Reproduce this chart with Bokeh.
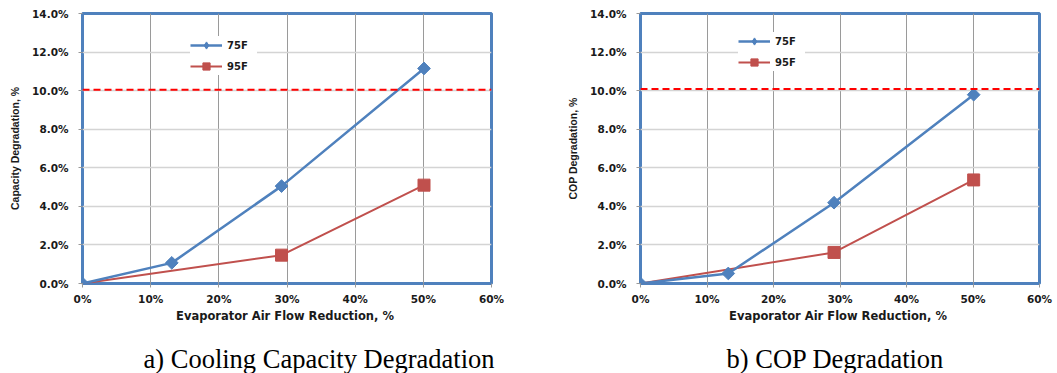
import math
from bokeh.plotting import figure
from bokeh.models import Range1d, Span, Legend, LegendItem, FixedTicker
from bokeh.core.properties import value
from bokeh.layouts import row, column
from bokeh.embed import file_html
from bokeh.resources import INLINE

# ---- data ----
x_ticks = [0, 10, 20, 30, 40, 50, 60]
x_tick_labels = ["0%", "10%", "20%", "30%", "40%", "50%", "60%"]
y_ticks = [0, 2, 4, 6, 8, 10, 12, 14]
y_tick_labels = ["0.0%", "2.0%", "4.0%", "6.0%", "8.0%", "10.0%", "12.0%", "14.0%"]

series_names = ["75F", "95F"]

cap_x75 = [0, 13.1, 29.2, 50.1]
cap_y75 = [0, 1.07, 5.05, 11.15]
cap_x95 = [0, 29.2, 50.1]
cap_y95 = [0, 1.47, 5.10]
cap_limit = 10.05

cop_x75 = [0, 13.2, 29.1, 50.1]
cop_y75 = [0, 0.52, 4.19, 9.79]
cop_x95 = [0, 29.1, 50.1]
cop_y95 = [0, 1.61, 5.37]
cop_limit = 10.08

x_title = "Evaporator  Air Flow Reduction, %"
cap_ytitle = "Capacity Degradation, %"
cop_ytitle = "COP Degradation, %"
captions = ["a) Cooling Capacity Degradation", "b) COP Degradation"]

BLUE = "#4F81BD"
RED = "#C0504D"


def build(width, left, right, xs75, ys75, xs95, ys95, limit, ytitle, leg_loc):
    p = figure(width=width, height=330, output_backend="svg", toolbar_location=None,
               x_range=Range1d(0, 60), y_range=Range1d(0, 14),
               min_border_left=left, min_border_right=right,
               min_border_top=13, min_border_bottom=47)
    p.background_fill_color = "white"
    p.border_fill_color = "white"
    p.outline_line_color = BLUE
    p.outline_line_width = 3

    for ax in (p.xaxis[0], p.yaxis[0]):
        ax.axis_line_color = None
        ax.major_tick_in = 0
        ax.major_tick_out = 4
        ax.major_tick_line_color = "#999999"
        ax.minor_tick_line_color = None
        ax.major_label_text_font = "DejaVu Sans"
        ax.major_label_text_font_style = "bold"
        ax.major_label_text_font_size = "10.5px"
        ax.major_label_text_color = "#1a1a1a"

    p.xaxis.ticker = FixedTicker(ticks=x_ticks)
    p.xaxis.major_label_overrides = {t: l for t, l in zip(x_ticks, x_tick_labels)}
    p.yaxis.ticker = FixedTicker(ticks=y_ticks)
    p.yaxis.major_label_overrides = {t: l for t, l in zip(y_ticks, y_tick_labels)}
    p.xaxis.major_label_standoff = 5
    p.yaxis.major_label_standoff = 10

    p.xaxis.axis_label = x_title
    p.xaxis.axis_label_text_font = "DejaVu Sans"
    p.xaxis.axis_label_text_font_style = "bold"
    p.xaxis.axis_label_text_font_size = "11.5px"
    p.xaxis.axis_label_text_color = "#1a1a1a"
    p.xaxis.axis_label_standoff = 1

    p.yaxis.axis_label = ytitle
    p.yaxis.axis_label_text_font = "Liberation Sans"
    p.yaxis.axis_label_text_font_style = "bold"
    p.yaxis.axis_label_text_font_size = "10.5px"
    p.yaxis.axis_label_text_color = "#1a1a1a"
    p.yaxis.axis_label_standoff = 8

    p.xgrid.grid_line_color = "#9a9a9a"
    p.xgrid.grid_line_width = 1
    p.ygrid.grid_line_color = "#d4d4d4"
    p.ygrid.grid_line_width = 1.5

    p.add_layout(Span(location=limit, dimension="width", line_color="#FF0000",
                      line_dash="7 4", line_width=2))

    l95 = p.line(xs95, ys95, line_color=RED, line_width=2)
    m95 = p.scatter(xs95[1:], ys95[1:], marker="square", size=12,
                    fill_color=RED, line_color=RED)
    l75 = p.line(xs75, ys75, line_color=BLUE, line_width=2.5)
    # diamond swatch for the legend (sits under the origin marker)
    k75 = p.scatter(xs75[:1], ys75[:1], marker="diamond", size=10,
                    fill_color=BLUE, line_color=BLUE)
    m75 = p.scatter(xs75, ys75, marker="square", angle=math.pi / 4, size=9,
                    fill_color=BLUE, line_color=BLUE)

    legend = Legend(items=[LegendItem(label=series_names[0], renderers=[l75, k75]),
                           LegendItem(label=series_names[1], renderers=[l95, m95])],
                    location=leg_loc, padding=2, spacing=3, glyph_width=32,
                    glyph_height=18, label_height=18, label_width=30,
                    label_standoff=5, border_line_color=None,
                    background_fill_color="white", background_fill_alpha=1,
                    label_text_font="DejaVu Sans", label_text_font_style="bold",
                    label_text_font_size="10px", label_text_color="#1a1a1a",
                    margin=0)
    p.add_layout(legend)
    return p


p1 = build(528, 82, 37, cap_x75, cap_y75, cap_x95, cap_y95, cap_limit,
           cap_ytitle, (108, 208))
p2 = build(529, 112, 18, cop_x75, cop_y75, cop_x95, cop_y95, cop_limit,
           cop_ytitle, (98, 212))

# caption strip (pixel-like coordinate space)
cap = figure(width=1057, height=43, output_backend="svg", toolbar_location=None,
             x_range=Range1d(0, 1057), y_range=Range1d(0, 43),
             min_border=0, outline_line_color=None)
cap.axis.visible = False
cap.grid.visible = False
cap.text(x=[143, 726], y=[15, 15], text=captions, text_align="left",
         text_baseline="middle", text_font=value("Liberation Serif"),
         text_font_size="26.5px", text_color="black")

layout = column(row(p1, p2), cap)
open("out.html", "w").write(file_html(layout, INLINE))
